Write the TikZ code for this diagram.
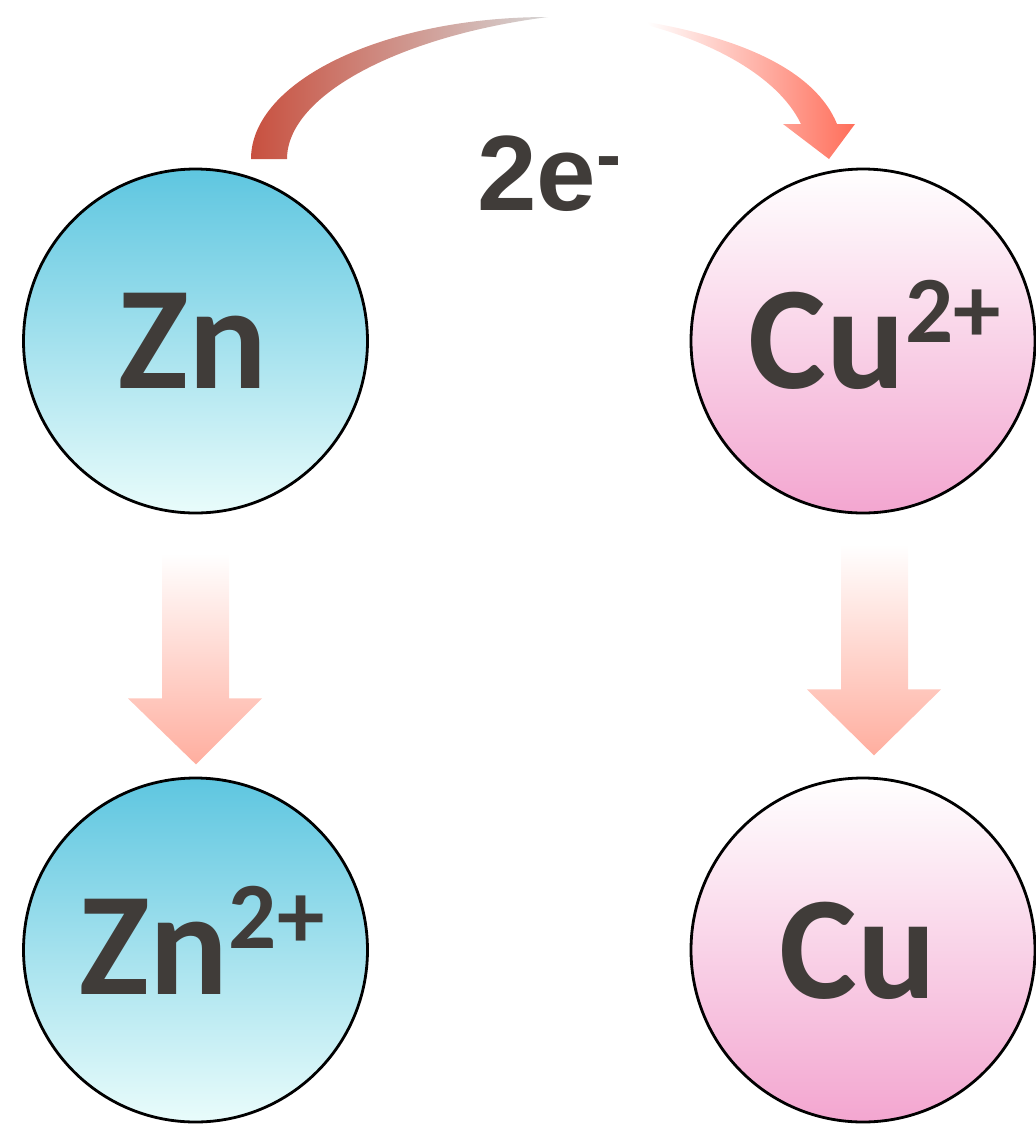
\documentclass[tikz,border=0pt]{standalone}
\usepackage{fontspec}
\usepackage{tikz}
\newfontfamily\calibri{Carlito}
\newfontfamily\arial{Liberation Sans}
\definecolor{tinta}{HTML}{403C39}
\definecolor{znTopo}{HTML}{5EC6E0}
\definecolor{znMeio}{HTML}{B3E8EF}
\definecolor{znBase}{HTML}{E9FCFB}
\definecolor{cuMeio}{HTML}{FAD6E8}
\definecolor{cuBase}{HTML}{F3A6D0}
\definecolor{setaVermelha}{HTML}{C8503F}
\definecolor{setaCinza}{HTML}{D6D6D6}
\definecolor{setaSalmao}{HTML}{FF6E5A}
\definecolor{setaRosa}{HTML}{FFAE9F}
\newcommand{\corZn}{znTopo}
\newcommand{\corCu}{cuBase}
\newcommand{\carga}[1]{\raisebox{23pt}{\fontsize{47.5}{47.5}\selectfont #1}}

\begin{document}
\begin{tikzpicture}[x=0.5pt, y=-0.5pt,
    bola/.style = {circle, draw=black, line width=1.4pt, inner sep=0pt, minimum size=172pt},
    bolaZn/.style = {bola, top color=\corZn, middle color=znMeio, bottom color=znBase},
    bolaCu/.style = {bola, top color=white, middle color=cuMeio, bottom color=\corCu},
    ion/.style = {anchor=base, inner sep=0pt, text=tinta, font=\calibri\bfseries\fontsize{73.5}{73.5}\selectfont},
    seta/.style = {top color=white, bottom color=setaRosa}]
  \useasboundingbox (0,0) rectangle (1035,1126);

    % bolas
  \node[bolaZn] (zn)  at (195.5,341) {};
  \node[bolaCu] (cu2) at (863,341)   {};
  \node[bolaZn] (zn2) at (195.5,950) {};
  \node[bolaCu] (cu)  at (863,950)   {};

    % textos
  \node[ion] (znTxt)  at (193,388) {Zn};
  \node[ion] (cu2Txt) at (875,388) {Cu\carga{2+}};
  \node[ion] (zn2Txt) at (202,994) {Zn\carga{2+}};
  \node[ion] (cuTxt)  at (858,998) {Cu};

    % seta curva, parte 1
  \shade[left color=setaVermelha, right color=setaCinza]
    (251,159) .. controls (251,81) and (384,17) .. (548,17)
    .. controls (400,36) and (287,95) .. (287,159) -- cycle;

    % seta curva, parte 2
  \shade[left color=white, right color=setaSalmao]
    (647,22) .. controls (740,38) and (815,70) .. (837,124)
    -- (855,124) -- (829,159) -- (783,124) -- (801,124)
    .. controls (780,80) and (720,45) .. (650,26) -- cycle;

  \node[anchor=base, inner sep=0pt, text=tinta, font=\arial\bfseries\fontsize{53.5}{53.5}\selectfont]
    (eletrons) at (549,210) {2e\raisebox{15pt}{\fontsize{37.5}{37.5}\selectfont -}};

    % seta zn -> zn2
  \begin{scope}[shift={(zn.south)}]
    \shade[seta] (-33.5,39) -- (33.5,39) -- (33.5,184) -- (66.5,184)
      -- (0.5,250) -- (-67.5,184) -- (-33.5,184) -- cycle;
  \end{scope}

    % seta cu2 -> cu
  \begin{scope}[shift={(cu2.south)}]
    \shade[seta] (-22,30) -- (45,30) -- (45,175) -- (78,175)
      -- (11,241) -- (-56,175) -- (-22,175) -- cycle;
  \end{scope}
\end{tikzpicture}
\end{document}
